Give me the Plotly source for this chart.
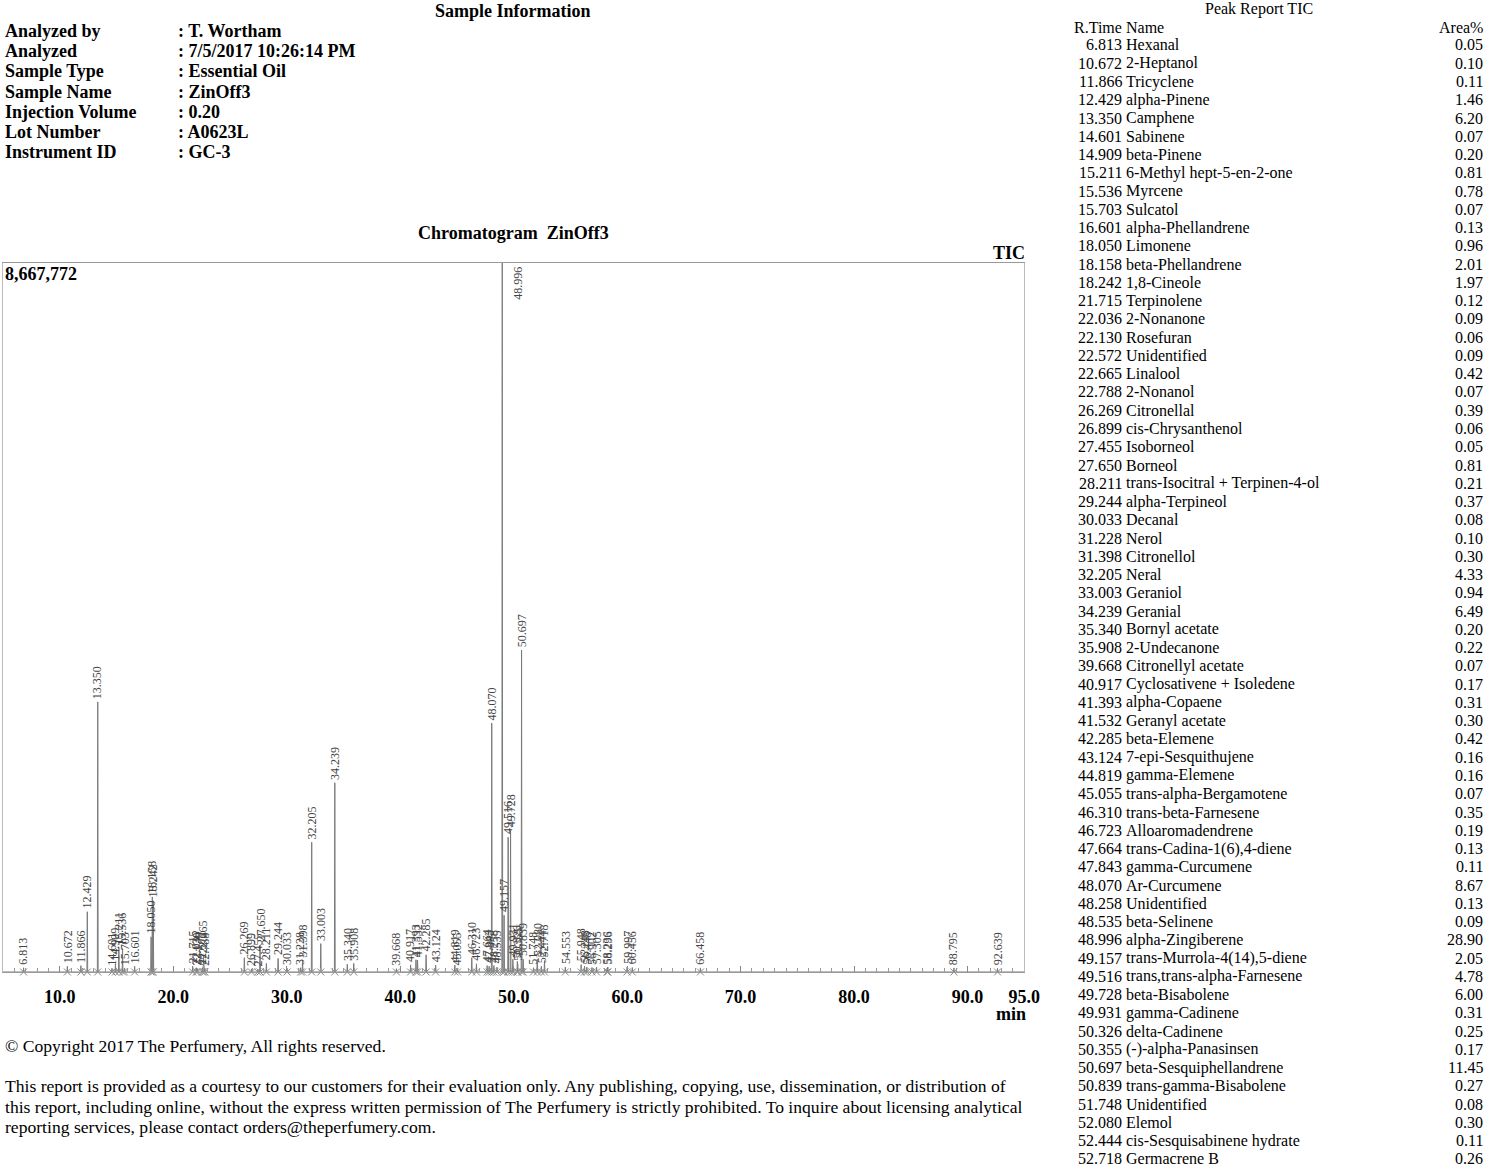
import plotly.graph_objects as go

W, H = 1500, 1170
EW = 1485  # effective rendered width of the paper (page renders ~1% narrower)
MAX_INT = 8667772

# ---------------- data ----------------
info_labels = ["Analyzed by", "Analyzed", "Sample Type", "Sample Name",
               "Injection Volume", "Lot Number", "Instrument ID"]
info_values = [": T. Wortham", ": 7/5/2017 10:26:14 PM", ": Essential Oil",
               ": ZinOff3", ": 0.20", ": A0623L", ": GC-3"]

rt = [6.813, 10.672, 11.866, 12.429, 13.350, 14.601, 14.909, 15.211, 15.536, 15.703,
      16.601, 18.050, 18.158, 18.242, 21.715, 22.036, 22.130, 22.572, 22.665, 22.788,
      26.269, 26.899, 27.455, 27.650, 28.211, 29.244, 30.033, 31.228, 31.398, 32.205,
      33.003, 34.239, 35.340, 35.908, 39.668, 40.917, 41.393, 41.532, 42.285, 43.124,
      44.819, 45.055, 46.310, 46.723, 47.664, 47.843, 48.070, 48.258, 48.535, 48.996,
      49.157, 49.516, 49.728, 49.931, 50.326, 50.355, 50.697, 50.839, 51.748, 52.080,
      52.444, 52.718]

names = ["Hexanal", "2-Heptanol", "Tricyclene", "alpha-Pinene", "Camphene", "Sabinene",
         "beta-Pinene", "6-Methyl hept-5-en-2-one", "Myrcene", "Sulcatol",
         "alpha-Phellandrene", "Limonene", "beta-Phellandrene", "1,8-Cineole", "Terpinolene",
         "2-Nonanone", "Rosefuran", "Unidentified", "Linalool", "2-Nonanol", "Citronellal",
         "cis-Chrysanthenol", "Isoborneol", "Borneol", "trans-Isocitral + Terpinen-4-ol",
         "alpha-Terpineol", "Decanal", "Nerol", "Citronellol", "Neral", "Geraniol",
         "Geranial", "Bornyl acetate", "2-Undecanone", "Citronellyl acetate",
         "Cyclosativene + Isoledene", "alpha-Copaene", "Geranyl acetate", "beta-Elemene",
         "7-epi-Sesquithujene", "gamma-Elemene", "trans-alpha-Bergamotene",
         "trans-beta-Farnesene", "Alloaromadendrene", "trans-Cadina-1(6),4-diene",
         "gamma-Curcumene", "Ar-Curcumene", "Unidentified", "beta-Selinene",
         "alpha-Zingiberene", "trans-Murrola-4(14),5-diene", "trans,trans-alpha-Farnesene",
         "beta-Bisabolene", "gamma-Cadinene", "delta-Cadinene", "(-)-alpha-Panasinsen",
         "beta-Sesquiphellandrene", "trans-gamma-Bisabolene", "Unidentified", "Elemol",
         "cis-Sesquisabinene hydrate", "Germacrene B"]

area = ["0.05", "0.10", "0.11", "1.46", "6.20", "0.07", "0.20", "0.81", "0.78", "0.07",
        "0.13", "0.96", "2.01", "1.97", "0.12", "0.09", "0.06", "0.09", "0.42", "0.07",
        "0.39", "0.06", "0.05", "0.81", "0.21", "0.37", "0.08", "0.10", "0.30", "4.33",
        "0.94", "6.49", "0.20", "0.22", "0.07", "0.17", "0.31", "0.30", "0.42", "0.16",
        "0.16", "0.07", "0.35", "0.19", "0.13", "0.11", "8.67", "0.13", "0.09", "28.90",
        "2.05", "4.78", "6.00", "0.31", "0.25", "0.17", "11.45", "0.27", "0.08", "0.30",
        "0.11", "0.26"]

# estimated peak heights (intensity counts) for the table peaks
height = [52000, 70000, 78000, 737000, 3302000, 45000, 100000, 300000, 285000, 45000,
          70000, 430000, 918000, 870000, 70000, 52000, 42000, 52000, 190000, 45000,
          175000, 38000, 35000, 330000, 105000, 165000, 45000, 52000, 140000, 1586000,
          347000, 2314000, 95000, 105000, 40000, 87000, 150000, 145000, 210000, 85000,
          85000, 42000, 175000, 100000, 78000, 70000, 3042000, 78000, 60000, 8667772,
          693000, 1647000, 1733000, 156000, 130000, 104000, 3935000, 156000, 52000, 156000,
          70000, 140000]

# later peaks shown in the chromatogram only
extra_rt = [54.553, 55.948, 56.248, 56.448, 56.902, 57.305, 58.236, 58.296, 59.997, 60.456,
            66.458, 88.795, 92.639]
extra_height = [60000, 90000, 70000, 60000, 55000, 60000, 50000, 60000, 60000, 55000,
                50000, 50000, 45000]

x_ticks = [10, 20, 30, 40, 50, 60, 70, 80, 90, 95]

footer_lines = [
    "This report is provided as a courtesy to our customers for their evaluation only. Any publishing, copying, use, dissemination, or distribution of",
    "this report, including online, without the express written permission of The Perfumery is strictly prohibited. To inquire about licensing analytical",
    "reporting services, please contact orders@theperfumery.com.",
]

# ---------------- helpers ----------------
SERIF = "Liberation Serif, Times New Roman, serif"


def px(x):
    return x / EW


def py(y):
    return 1 - y / H


def txt(x, y, text, size, anchor="left", bold=False):
    return dict(x=px(x), y=py(y), xref="paper", yref="paper",
                text=f"<b>{text}</b>" if bold else text, showarrow=False,
                xanchor=anchor, yanchor="middle", borderpad=0, borderwidth=0,
                font=dict(family=SERIF, size=size, color="black"))


# ---------------- chromatogram trace ----------------
peaks = sorted(zip(rt + extra_rt, height + extra_height))
half_w = 0.035
xs, ys = [5.0], [0]
for r, h in peaks:
    xs += [r - half_w, r, r + half_w]
    ys += [0, h, 0]
xs.append(95.0)
ys.append(0)

fig = go.Figure()
fig.add_trace(go.Scatter(x=xs, y=ys, mode="lines",
                         line=dict(color="#7a7a7a", width=1), hoverinfo="skip",
                         showlegend=False))
fig.add_trace(go.Scatter(x=[p[0] for p in peaks], y=[0] * len(peaks), mode="markers",
                         marker=dict(symbol="x-thin", size=7,
                                     line=dict(color="#8a8a8a", width=1)),
                         cliponaxis=False, hoverinfo="skip", showlegend=False))

annotations = []
# peak labels
for r, h in peaks:
    if h > 0.9 * MAX_INT:
        annotations.append(dict(x=r, y=h, xref="x", yref="y", text=f"{r:.3f}",
                                textangle=-90, showarrow=False, xanchor="left",
                                yanchor="top", xshift=6, yshift=-2,
                                font=dict(family=SERIF, size=12, color="#444")))
    else:
        annotations.append(dict(x=r, y=h, xref="x", yref="y", text=f"{r:.3f}",
                                textangle=-90, showarrow=False, xanchor="center",
                                yanchor="bottom", yshift=1,
                                font=dict(family=SERIF, size=12, color="#444")))

# header block
annotations.append(txt(513, 11, "Sample Information", 18, "center", True))
for i, (lab, val) in enumerate(zip(info_labels, info_values)):
    yy = 31 + i * 20.2
    annotations.append(txt(5, yy, lab, 18, "left", True))
    annotations.append(txt(178, yy, val, 18, "left", True))

# chromatogram titles
annotations.append(txt(514, 233, "Chromatogram  ZinOff3", 18, "center", True))
annotations.append(txt(1026, 253, "TIC", 18, "right", True))
annotations.append(txt(5, 274, f"{MAX_INT:,}", 18, "left", True))
annotations.append(txt(1012, 1014, "min", 18, "center", True))

# footer
annotations.append(txt(5, 1046, "\u00a9 Copyright 2017 The Perfumery, All rights reserved.", 17.6))
for i, line in enumerate(footer_lines):
    annotations.append(txt(5, 1086 + i * 20.5, line, 17.6))

# peak report table
TS = 16
annotations.append(txt(1260, 9, "Peak Report TIC", TS, "center"))
annotations.append(txt(1123, 27, "R.Time", TS, "right"))
annotations.append(txt(1127, 27, "Name", TS, "left"))
annotations.append(txt(1484, 27, "Area%", TS, "right"))
for i, (r, n, a) in enumerate(zip(rt, names, area)):
    yy = 45 + i * 18.262
    annotations.append(txt(1123, yy, f"{r:.3f}", TS, "right"))
    annotations.append(txt(1127, yy, n, TS, "left"))
    annotations.append(txt(1484, yy, a, TS, "right"))

fig.update_layout(
    width=W, height=H, autosize=False,
    margin=dict(l=0, r=0, t=0, b=0),
    paper_bgcolor="white", plot_bgcolor="white",
    showlegend=False,
    annotations=annotations,
    xaxis=dict(domain=[px(3), px(1025)], range=[5, 95],
               tickvals=x_ticks, ticktext=[f"{v:.1f}" for v in x_ticks],
               tickfont=dict(family=SERIF, size=18, color="black", weight="bold"),
               ticks="inside", ticklen=6, tickcolor="#888",
               minor=dict(dtick=1, tick0=0, ticks="inside", ticklen=4, tickcolor="#999"),
               ticklabelstandoff=8,
               showgrid=False, zeroline=False, showline=True, linecolor="#999",
               linewidth=1, mirror=True),
    yaxis=dict(domain=[py(972), py(263)], range=[0, MAX_INT],
               showticklabels=False, ticks="", showgrid=False, zeroline=False,
               showline=True, linecolor="#bbb", linewidth=1, mirror=True),
)

fig.write_html(
    "out.html",
    config={"displayModeBar": False, "responsive": False},
    post_script=(
        "document.documentElement.style.overflow='hidden';"
        "document.body.style.margin='0';document.body.style.padding='0';"
        "document.body.style.overflow='hidden';"
        "Plotly.relayout('{plot_id}', {width: 1500, height: 1170});"
    ),
)
